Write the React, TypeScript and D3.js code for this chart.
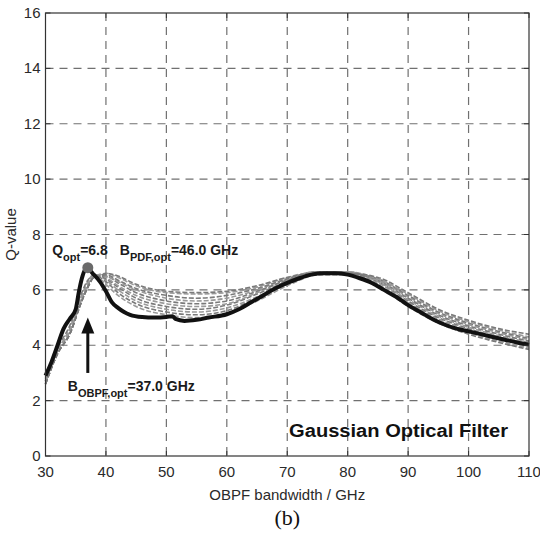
import { useEffect, useRef } from "react";
import * as d3 from "d3";

// x positions (GHz) shared by the gray family of curves
const grayX = [30, 32, 34, 36, 37, 38, 39, 40, 42, 45, 50, 55, 60, 65, 70, 75, 80, 85, 90, 95, 100, 105, 110];

const graySeries = [
  [2.7, 3.8, 4.6, 5.8, 6.3, 6.55, 6.4, 6.2, 5.8, 5.4, 5.1, 5.0, 5.15, 5.6, 6.15, 6.55, 6.6, 6.2, 5.45, 4.85, 4.45, 4.15, 3.9],
  [2.8, 3.9, 4.7, 5.9, 6.35, 6.5, 6.45, 6.3, 5.9, 5.5, 5.2, 5.1, 5.25, 5.7, 6.2, 6.55, 6.55, 6.15, 5.4, 4.8, 4.4, 4.1, 3.85],
  [2.7, 3.8, 4.5, 5.7, 6.2, 6.5, 6.5, 6.35, 6.0, 5.6, 5.3, 5.2, 5.35, 5.75, 6.25, 6.6, 6.6, 6.25, 5.55, 4.95, 4.55, 4.25, 4.0],
  [2.6, 3.7, 4.4, 5.6, 6.1, 6.45, 6.5, 6.4, 6.1, 5.7, 5.4, 5.3, 5.45, 5.85, 6.3, 6.6, 6.6, 6.3, 5.6, 5.0, 4.6, 4.3, 4.05],
  [2.7, 3.8, 4.5, 5.7, 6.2, 6.5, 6.55, 6.45, 6.15, 5.8, 5.5, 5.4, 5.5, 5.9, 6.35, 6.65, 6.65, 6.3, 5.65, 5.05, 4.65, 4.35, 4.1],
  [2.6, 3.7, 4.4, 5.6, 6.1, 6.45, 6.5, 6.5, 6.25, 5.9, 5.6, 5.5, 5.6, 5.95, 6.35, 6.6, 6.6, 6.35, 5.7, 5.1, 4.7, 4.4, 4.15],
  [2.7, 3.8, 4.5, 5.7, 6.2, 6.5, 6.55, 6.5, 6.3, 6.0, 5.7, 5.6, 5.7, 6.0, 6.4, 6.65, 6.65, 6.35, 5.75, 5.15, 4.75, 4.45, 4.2],
  [2.6, 3.7, 4.4, 5.6, 6.1, 6.45, 6.5, 6.55, 6.35, 6.05, 5.8, 5.7, 5.8, 6.05, 6.4, 6.65, 6.6, 6.4, 5.8, 5.2, 4.8, 4.5, 4.25],
  [2.7, 3.8, 4.5, 5.7, 6.2, 6.5, 6.55, 6.6, 6.45, 6.15, 5.9, 5.85, 5.9, 6.1, 6.45, 6.65, 6.65, 6.4, 5.85, 5.25, 4.85, 4.55, 4.3],
  [2.6, 3.7, 4.4, 5.6, 6.1, 6.45, 6.5, 6.6, 6.5, 6.2, 5.95, 5.9, 5.95, 6.15, 6.45, 6.6, 6.6, 6.45, 5.9, 5.3, 4.9, 4.6, 4.4],
];

// thick black curve
const mainX = [30, 31, 32, 33, 34, 35, 35.5, 36, 36.5, 37, 38, 39, 40, 41, 42, 43, 44, 46, 48, 50, 51, 51.5, 53, 55, 57, 60, 62, 64, 66, 68, 70, 72, 74, 76, 78, 80, 82, 84, 86, 88, 90, 92, 94, 96, 98, 100, 102, 104, 106, 108, 110];
const mainQ = [2.9, 3.4, 4.0, 4.6, 4.95, 5.3, 5.9, 6.4, 6.7, 6.75, 6.55, 6.3, 5.95, 5.55, 5.35, 5.2, 5.1, 5.02, 5.0, 5.02, 5.05, 4.95, 4.88, 4.92, 5.0, 5.12, 5.3, 5.55, 5.8, 6.05, 6.25, 6.42, 6.55, 6.6, 6.6, 6.55, 6.42, 6.25, 6.0, 5.75, 5.45, 5.2, 4.95, 4.75, 4.6, 4.5, 4.4, 4.3, 4.2, 4.1, 4.02];

const optPoint = { x: 37, q: 6.8 };
const xTicks = [30, 40, 50, 60, 70, 80, 90, 100, 110];
const yTicks = [0, 2, 4, 6, 8, 10, 12, 14, 16];

export default function App() {
  const svgRef = useRef<SVGSVGElement>(null);

  useEffect(() => {
    const width = 540;
    const height = 545;
    const margin = { top: 13, right: 11, bottom: 89, left: 45.5 };
    const w = width - margin.left - margin.right;
    const h = height - margin.top - margin.bottom;

    d3.select(svgRef.current).selectAll("*").remove();
    const root = d3.select(svgRef.current).attr("width", width).attr("height", height);
    root.append("rect").attr("width", width).attr("height", height).attr("fill", "#fff");

    const svg = root.append("g").attr("transform", `translate(${margin.left},${margin.top})`);

    const x = d3.scaleLinear().domain([30, 110]).range([0, w]);
    const y = d3.scaleLinear().domain([0, 16]).range([h, 0]);

    // grid
    svg
      .selectAll(".vgrid")
      .data(xTicks.slice(1, -1))
      .join("line")
      .attr("x1", (d) => x(d))
      .attr("x2", (d) => x(d))
      .attr("y1", 0)
      .attr("y2", h)
      .attr("stroke", "#707070")
      .attr("stroke-width", 1.2)
      .attr("stroke-dasharray", "8,6");
    svg
      .selectAll(".hgrid")
      .data(yTicks.slice(1, -1))
      .join("line")
      .attr("x1", 0)
      .attr("x2", w)
      .attr("y1", (d) => y(d))
      .attr("y2", (d) => y(d))
      .attr("stroke", "#707070")
      .attr("stroke-width", 1.2)
      .attr("stroke-dasharray", "8,6");

    const line = d3
      .line<[number, number]>()
      .x((d) => x(d[0]))
      .y((d) => y(d[1]))
      .curve(d3.curveMonotoneX);

    graySeries.forEach((s, i) => {
      svg
        .append("path")
        .attr("d", line(grayX.map((xv, j) => [xv, s[j]] as [number, number])))
        .attr("fill", "none")
        .attr("stroke", i % 2 ? "#7a7a7a" : "#9a9a9a")
        .attr("stroke-width", 1.6)
        .attr("stroke-dasharray", "5,2");
    });

    svg
      .append("path")
      .attr("d", line(mainX.map((xv, j) => [xv, mainQ[j]] as [number, number])))
      .attr("fill", "none")
      .attr("stroke", "#111")
      .attr("stroke-width", 4)
      .attr("stroke-linejoin", "round");

    svg
      .append("circle")
      .attr("cx", x(optPoint.x))
      .attr("cy", y(optPoint.q))
      .attr("r", 5.5)
      .attr("fill", "#6a6a6a");

    // axes box
    svg
      .append("rect")
      .attr("width", w)
      .attr("height", h)
      .attr("fill", "none")
      .attr("stroke", "#333")
      .attr("stroke-width", 1.2);

    // inward ticks
    xTicks.forEach((t) => {
      svg.append("line").attr("x1", x(t)).attr("x2", x(t)).attr("y1", h).attr("y2", h - 5).attr("stroke", "#333");
      svg.append("line").attr("x1", x(t)).attr("x2", x(t)).attr("y1", 0).attr("y2", 5).attr("stroke", "#333");
    });
    yTicks.forEach((t) => {
      svg.append("line").attr("x1", 0).attr("x2", 5).attr("y1", y(t)).attr("y2", y(t)).attr("stroke", "#333");
      svg.append("line").attr("x1", w).attr("x2", w - 5).attr("y1", y(t)).attr("y2", y(t)).attr("stroke", "#333");
    });

    const font = "Liberation Sans, Arial, sans-serif";
    svg
      .selectAll(".xl")
      .data(xTicks)
      .join("text")
      .attr("x", (d) => x(d))
      .attr("y", h + 21)
      .attr("text-anchor", "middle")
      .attr("font-family", font)
      .attr("font-size", 15)
      .attr("fill", "#2a2a2a")
      .text((d) => d);
    svg
      .selectAll(".yl")
      .data(yTicks)
      .join("text")
      .attr("x", -5)
      .attr("y", (d) => y(d) + 5)
      .attr("text-anchor", "end")
      .attr("font-family", font)
      .attr("font-size", 15)
      .attr("fill", "#2a2a2a")
      .text((d) => d);

    svg
      .append("text")
      .attr("x", w / 2)
      .attr("y", h + 44)
      .attr("text-anchor", "middle")
      .attr("font-family", font)
      .attr("font-size", 15)
      .attr("fill", "#2a2a2a")
      .text("OBPF bandwidth / GHz");
    svg
      .append("text")
      .attr("transform", `translate(${-30},${h / 2}) rotate(-90)`)
      .attr("text-anchor", "middle")
      .attr("font-family", font)
      .attr("font-size", 15)
      .attr("fill", "#2a2a2a")
      .text("Q-value");

    // annotations with subscripts
    const ann = (tx: number, ty: number, parts: [string, boolean][]) => {
      const t = svg
        .append("text")
        .attr("x", tx)
        .attr("y", ty)
        .attr("font-family", font)
        .attr("font-weight", "bold")
        .attr("font-size", 14)
        .attr("fill", "#1a1a1a");
      let shifted = false;
      parts.forEach(([s, sub]) => {
        const dy = sub ? (shifted ? 0 : 6) : shifted ? -6 : 0;
        shifted = sub;
        t.append("tspan")
          .attr("font-size", sub ? 11 : 14)
          .attr("dy", dy)
          .text(s);
      });
    };
    ann(x(31.1), y(7.25), [["Q", false], ["opt", true], ["=6.8", false]]);
    ann(x(42.3), y(7.25), [["B", false], ["PDF,opt", true], ["=46.0 GHz", false]]);
    ann(x(33.7), y(2.35), [["B", false], ["OBPF,opt", true], ["=37.0 GHz", false]]);

    // arrow
    const ax = x(37);
    svg
      .append("line")
      .attr("x1", ax)
      .attr("x2", ax)
      .attr("y1", y(3.0))
      .attr("y2", y(4.5))
      .attr("stroke", "#111")
      .attr("stroke-width", 3);
    svg
      .append("path")
      .attr("d", `M${ax},${y(5.0)} L${ax - 6.5},${y(4.42)} L${ax + 6.5},${y(4.42)} Z`)
      .attr("fill", "#111");

    svg
      .append("text")
      .attr("x", x(70.3))
      .attr("y", y(0.68))
      .attr("font-family", font)
      .attr("font-weight", "bold")
      .attr("font-size", 18)
      .attr("textLength", 219)
      .attr("lengthAdjust", "spacingAndGlyphs")
      .attr("fill", "#111")
      .text("Gaussian Optical Filter");

    root
      .append("text")
      .attr("x", margin.left + w / 2)
      .attr("y", 525)
      .attr("text-anchor", "middle")
      .attr("font-family", "Liberation Serif, DejaVu Serif, serif")
      .attr("font-size", 22)
      .attr("fill", "#111")
      .text("(b)");
  }, []);

  return <svg ref={svgRef} style={{ position: "absolute", left: 0, top: 0 }}></svg>;
}
